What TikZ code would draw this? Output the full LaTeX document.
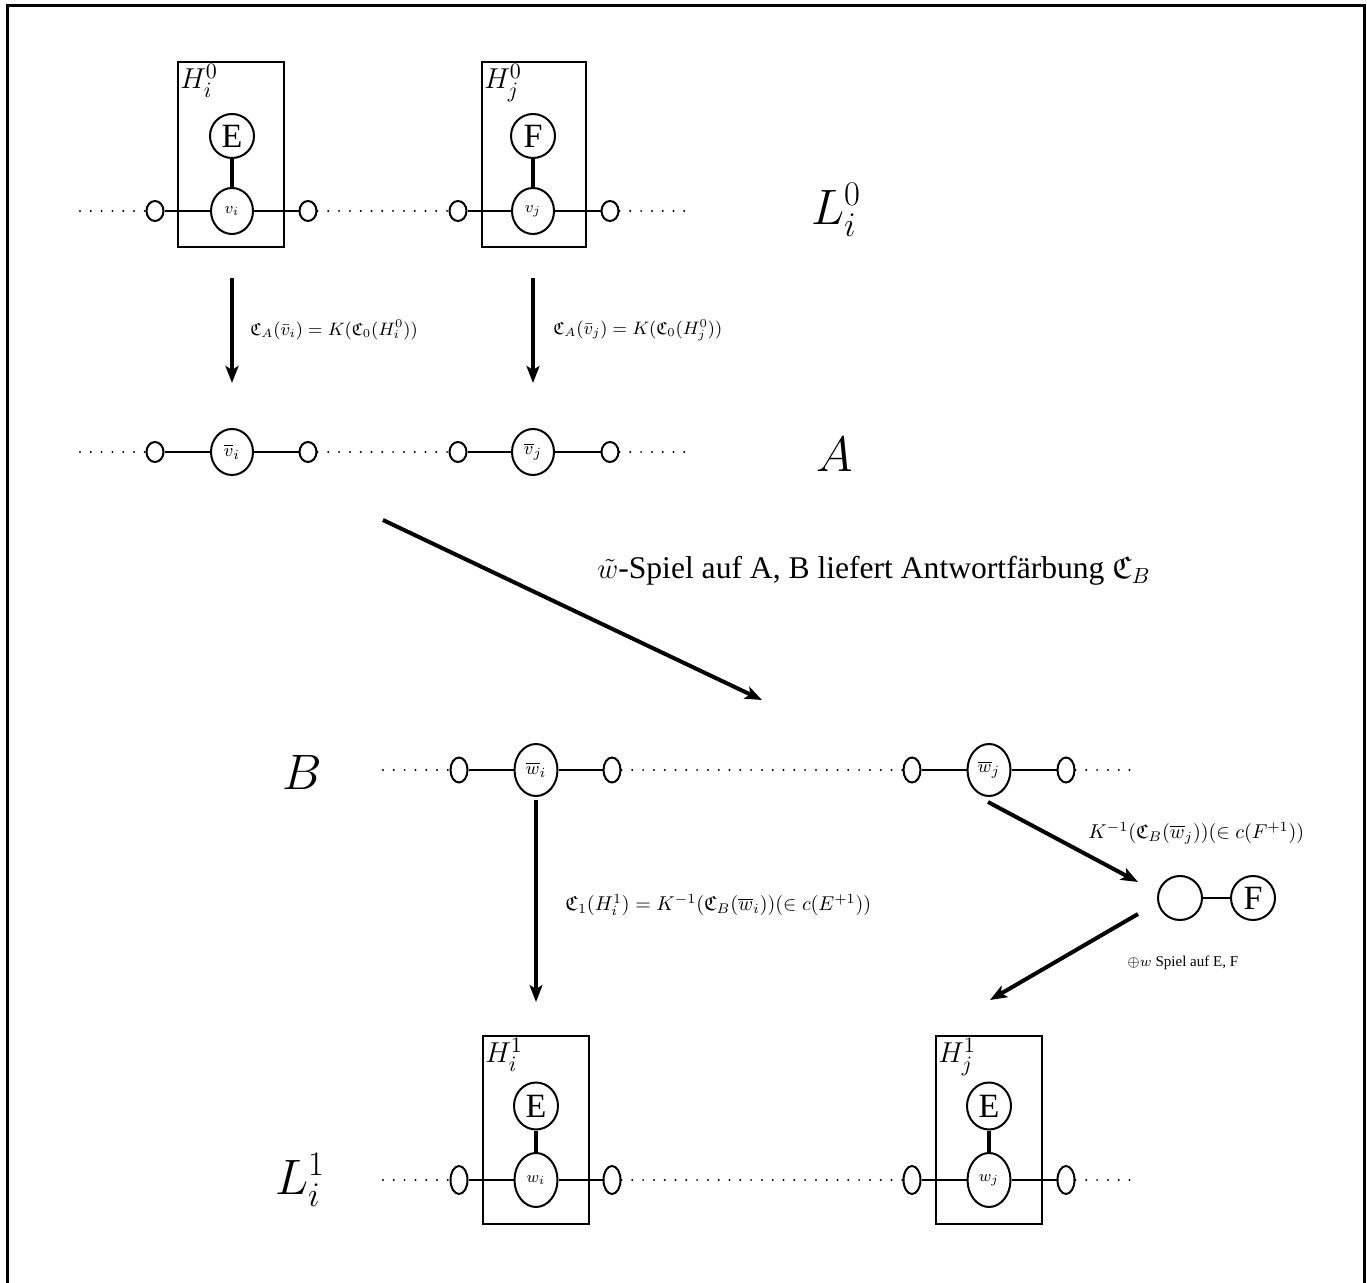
\documentclass[tikz,border=0pt]{standalone}
\usepackage{amsmath,amsfonts,amssymb}
\usepackage[no-math]{fontspec}
\setmainfont{Liberation Serif}
\usetikzlibrary{shapes.geometric,arrows.meta}
\tikzset{
  smc/.style={draw, ellipse, line width=1pt, minimum width=8.5pt, minimum height=10pt, inner sep=0pt},
  vn/.style={draw, ellipse, line width=1pt, minimum width=21pt, minimum height=23pt, inner sep=0pt, font=\fontsize{8}{9}\selectfont},
  bign/.style={draw, ellipse, line width=1pt, minimum width=22pt, minimum height=22pt, inner sep=0pt, font=\fontsize{17}{19}\selectfont},
  hbox/.style={draw, line width=1pt, inner sep=0pt},
  hlab/.style={anchor=north west, inner sep=1.5pt, font=\fontsize{15.5}{17}\selectfont},
  conn/.style={line width=1.2pt},
  stem/.style={line width=2pt},
  dotl/.style={line width=1.1pt, dash pattern=on 0pt off 5.4pt, line cap=round},
  arr/.style={line width=2pt, -{Stealth[length=8.5pt,width=6.5pt,inset=2pt]}},
  biglab/.style={font=\fontsize{23}{27}\selectfont},
  smlab/.style={inner sep=0pt},
}
\begin{document}
\begin{tikzpicture}[x=0.5pt,y=-0.5pt]
\useasboundingbox (0,0) rectangle (1367,1283);
\clip (0,0) rectangle (1367,1283);
\draw[line width=1.5pt] (7,6) rectangle (1364,1300);

% ---------- Row L_i^0 ----------
\node[hbox, minimum width=53pt, minimum height=92.5pt] (Bi0) at (231,154.5) {};
\node[hbox, minimum width=52pt, minimum height=92.5pt] (Bj0) at (534,154.5) {};
\node[hlab] (Hi0) at (Bi0.north west) {$H_i^0$};
\node[hlab] (Hj0) at (Bj0.north west) {$H_j^0$};
\coordinate (d1a) at (80,211);
\coordinate (d1b) at (692,211);
\node[smc] (a1) at (155,211) {};
\node[vn] (vi) at (232,211) {$v_i$};
\node[smc] (a2) at (308,211) {};
\node[smc] (a3) at (458,211) {};
\node[vn] (vj) at (533,211) {$v_j$};
\node[smc] (a4) at (610,211) {};
\node[bign] (Ei) at (232,136) {E};
\node[bign] (Fj) at (533,136) {F};
\draw[dotl] (d1a) -- (a1.west);
\draw[conn] (a1) -- (vi) (vi) -- (a2);
\draw[dotl] (a2.east) -- (a3.west);
\draw[conn] (a3) -- (vj) (vj) -- (a4);
\draw[dotl] (a4.east) -- (d1b);
\draw[stem] (Ei) -- (vi);
\draw[stem] (Fj) -- (vj);
\node[biglab] (L0) at (836,210) {$L_i^0$};

% ---------- arrows to A ----------
\coordinate (s1) at (232,278);
\coordinate (t1) at (232,383);
\coordinate (s2) at (533,278);
\coordinate (t2) at (533,383);
\draw[arr] (s1) -- (t1);
\draw[arr] (s2) -- (t2);
\node[smlab, anchor=west, font=\fontsize{8.9}{10}\selectfont] (lab1) at (250,330) {$\mathfrak{C}_A(\bar{v}_i) = K(\mathfrak{C}_0(H_i^0))$};
\node[smlab, anchor=west, font=\fontsize{8.9}{10}\selectfont] (lab2) at (553,330) {$\mathfrak{C}_A(\bar{v}_j) = K(\mathfrak{C}_0(H_j^0))$};

% ---------- Row A ----------
\coordinate (d2a) at (80,452);
\coordinate (d2b) at (692,452);
\node[smc] (b1) at (155,452) {};
\node[vn, font=\fontsize{9.5}{10}\selectfont] (vbi) at (232,452) {$\overline{v}_i$};
\node[smc] (b2) at (308,452) {};
\node[smc] (b3) at (458,452) {};
\node[vn, font=\fontsize{9.5}{10}\selectfont] (vbj) at (533,452) {$\overline{v}_j$};
\node[smc] (b4) at (610,452) {};
\draw[dotl] (d2a) -- (b1.west);
\draw[conn] (b1) -- (vbi) (vbi) -- (b2);
\draw[dotl] (b2.east) -- (b3.west);
\draw[conn] (b3) -- (vbj) (vbj) -- (b4);
\draw[dotl] (b4.east) -- (d2b);
\node[biglab] (Alab) at (835,455) {$A$};

% ---------- big diagonal ----------
\coordinate (s3) at (383,520);
\coordinate (t3) at (762,700);
\draw[arr] (s3) -- (t3);
\node[font=\fontsize{15.8}{18}\selectfont, anchor=west, inner sep=0pt] (game) at (597,571) {$\tilde{w}$-Spiel auf A, B liefert Antwortfärbung $\mathfrak{C}_B$};

% ---------- Row B ----------
\tikzset{smB/.style={smc, minimum height=12.5pt}, wn/.style={vn, minimum width=21.5pt, minimum height=26pt, font=\fontsize{9.5}{10}\selectfont}}
\coordinate (d3a) at (383,770);
\coordinate (d3b) at (1140,770);
\node[smB] (c1) at (459,770) {};
\node[wn] (wbi) at (536,770) {$\overline{w}_i$};
\node[smB] (c2) at (612,770) {};
\node[smB] (c3) at (912,770) {};
\node[wn] (wbj) at (989,770) {$\overline{w}_j$};
\node[smB] (c4) at (1066,770) {};
\draw[dotl] (d3a) -- (c1.west);
\draw[conn] (c1) -- (wbi) (wbi) -- (c2);
\draw[dotl] (c2.east) -- (c3.west);
\draw[conn] (c3) -- (wbj) (wbj) -- (c4);
\draw[dotl] (c4.east) -- (d3b);
\node[biglab] (Blab) at (302,772) {$B$};

% ---------- arrows from B ----------
\coordinate (s4) at (536,800);
\coordinate (t4) at (536,1002);
\draw[arr] (s4) -- (t4);
\node[smlab, anchor=west, font=\fontsize{10.3}{12}\selectfont] (lab3) at (565,905) {$\mathfrak{C}_1(H_i^1) = K^{-1}(\mathfrak{C}_B(\overline{w}_i))(\in c(E^{+1}))$};

\node[bign] (pc) at (1180,898) {};
\node[bign] (pF) at (1253,898) {F};
\draw[conn] (pc) -- (pF);
\coordinate (s5) at (988,802);
\coordinate (t5) at (1138,882);
\draw[arr] (s5) -- (t5);
\node[smlab, anchor=west, font=\fontsize{10}{12}\selectfont] (lab4) at (1088,833) {$K^{-1}(\mathfrak{C}_B(\overline{w}_j))(\in c(F^{+1}))$};
\coordinate (s6) at (1138,914);
\coordinate (t6) at (990,1000);
\draw[arr] (s6) -- (t6);
\node[smlab, anchor=west, font=\fontsize{7.5}{9}\selectfont] (lab5) at (1127,963) {$\oplus w$ Spiel auf E, F};

% ---------- Row L_i^1 ----------
\tikzset{smL/.style={smc, minimum height=14pt}, wl/.style={vn, minimum width=21.5pt, minimum height=27pt}, bigl/.style={bign, minimum height=23.5pt}}
\node[hbox, minimum width=53pt, minimum height=94pt] (Bi1) at (536,1130) {};
\node[hbox, minimum width=53pt, minimum height=94pt] (Bj1) at (989,1130) {};
\node[hlab] (Hi1) at (Bi1.north west) {$H_i^1$};
\node[hlab] (Hj1) at (Bj1.north west) {$H_j^1$};
\coordinate (d4a) at (383,1180);
\coordinate (d4b) at (1140,1180);
\node[smL] (e1) at (459,1180) {};
\node[wl] (wi) at (536,1180) {$w_i$};
\node[smL] (e2) at (612,1180) {};
\node[smL] (e3) at (912,1180) {};
\node[wl] (wj) at (989,1180) {$w_j$};
\node[smL] (e4) at (1066,1180) {};
\node[bigl] (Ei1) at (536,1106) {E};
\node[bigl] (Ej1) at (989,1106) {E};
\draw[dotl] (d4a) -- (e1.west);
\draw[conn] (e1) -- (wi) (wi) -- (e2);
\draw[dotl] (e2.east) -- (e3.west);
\draw[conn] (e3) -- (wj) (wj) -- (e4);
\draw[dotl] (e4.east) -- (d4b);
\draw[stem] (Ei1) -- (wi);
\draw[stem] (Ej1) -- (wj);
\node[biglab] (L1) at (300,1180) {$L_i^1$};
\end{tikzpicture}
\end{document}
